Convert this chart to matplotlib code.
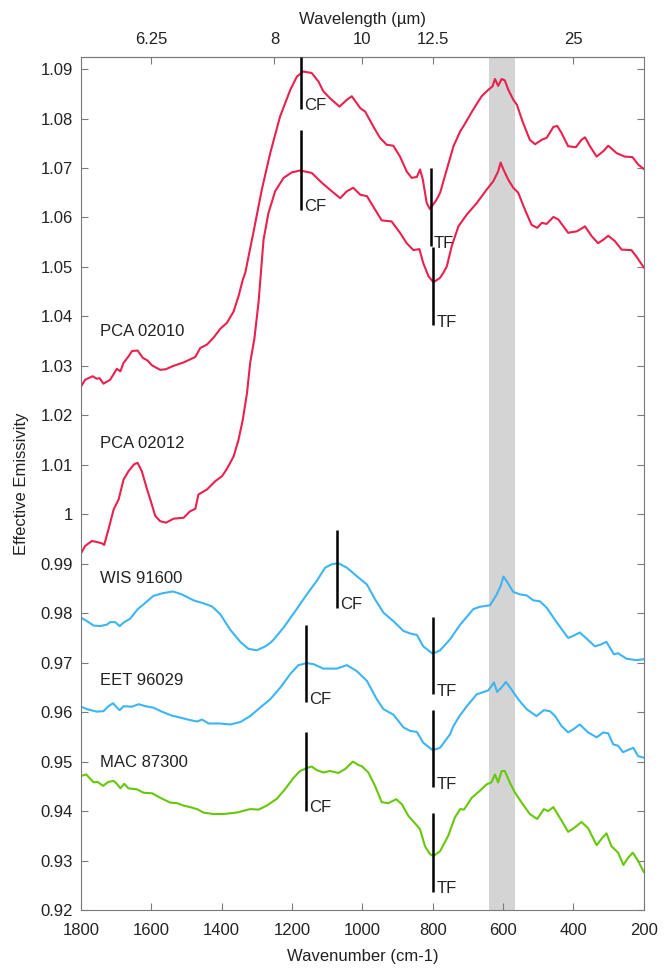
import matplotlib
matplotlib.use('Agg')
import matplotlib.pyplot as plt
from matplotlib.ticker import FormatStrFormatter, FuncFormatter

plt.rcParams['font.family'] = ['Liberation Sans', 'DejaVu Sans']
plt.rcParams['font.size'] = 12

# PCA 02010
pca10_wn = [1800, 1788, 1767, 1755, 1747, 1736, 1717, 1698, 1688, 1679, 1665, 1655, 1639, 1624, 1611,
            1598, 1575, 1560, 1537, 1508, 1490, 1475, 1461, 1442, 1423, 1404, 1385, 1366, 1352, 1340,
            1333, 1310, 1286, 1262, 1234, 1205, 1186, 1168, 1144, 1125, 1111, 1092, 1065, 1044, 1030,
            1006, 992, 969, 950, 931, 912, 893, 874, 860, 845, 836, 828, 817, 808, 789, 779, 760, 741,
            722, 713, 685, 661, 642, 630, 623, 614, 604, 595, 585, 571, 561, 543, 524, 509, 490, 476,
            457, 446, 434, 415, 393, 377, 367, 353, 334, 315, 301, 277, 254, 232, 216, 200]
pca10_em = [1.0258, 1.0272, 1.0279, 1.0274, 1.0275, 1.0264, 1.0272, 1.0294, 1.0289, 1.0306, 1.0319,
            1.0330, 1.0331, 1.0316, 1.0311, 1.0301, 1.0292, 1.0293, 1.0300, 1.0307, 1.0313, 1.0318,
            1.0336, 1.0343, 1.0357, 1.0375, 1.0387, 1.0410, 1.0441, 1.0474, 1.0488, 1.0569, 1.0656,
            1.0730, 1.0804, 1.0858, 1.0885, 1.0895, 1.0892, 1.0875, 1.0855, 1.0841, 1.0824, 1.0838,
            1.0845, 1.0821, 1.0814, 1.0784, 1.0761, 1.0747, 1.0745, 1.0723, 1.0693, 1.0680, 1.0682,
            1.0697, 1.0676, 1.0629, 1.0617, 1.0636, 1.0650, 1.0697, 1.0744, 1.0774, 1.0784, 1.0818,
            1.0845, 1.0858, 1.0865, 1.0880, 1.0866, 1.0880, 1.0877, 1.0858, 1.0838, 1.0828, 1.0791,
            1.0757, 1.0748, 1.0757, 1.0761, 1.0783, 1.0785, 1.0771, 1.0744, 1.0742, 1.0757, 1.0762,
            1.0744, 1.0723, 1.0734, 1.0745, 1.0730, 1.0723, 1.0722, 1.0707, 1.0698]

# PCA 02012
pca12_wn = [1800, 1788, 1769, 1755, 1740, 1734, 1722, 1707, 1693, 1679, 1665, 1649, 1639, 1627, 1612,
            1603, 1589, 1575, 1558, 1537, 1508, 1490, 1475, 1466, 1442, 1418, 1399, 1385, 1366, 1352,
            1340, 1328, 1319, 1307, 1295, 1281, 1267, 1248, 1224, 1201, 1177, 1144, 1115, 1087, 1063,
            1044, 1026, 1006, 987, 964, 945, 917, 893, 874, 855, 838, 827, 812, 798, 779, 770, 760,
            746, 727, 703, 675, 647, 628, 614, 607, 599, 585, 571, 557, 538, 519, 503, 490, 476, 457,
            443, 415, 390, 367, 348, 330, 315, 301, 282, 263, 235, 221, 200]
pca12_em = [0.9921, 0.9936, 0.9946, 0.9944, 0.9941, 0.9938, 0.9969, 1.0010, 1.0030, 1.0070, 1.0087,
            1.0101, 1.0104, 1.0087, 1.0050, 1.0030, 0.9997, 0.9986, 0.9983, 0.9991, 0.9993, 1.0006,
            1.0011, 1.0040, 1.0050, 1.0067, 1.0077, 1.0092, 1.0117, 1.0151, 1.0191, 1.0245, 1.0306,
            1.0355, 1.0430, 1.0555, 1.0609, 1.0653, 1.0680, 1.0691, 1.0695, 1.0690, 1.0670, 1.0653,
            1.0639, 1.0653, 1.0660, 1.0646, 1.0643, 1.0616, 1.0594, 1.0592, 1.0569, 1.0548, 1.0534,
            1.0536, 1.0508, 1.0481, 1.0469, 1.0478, 1.0488, 1.0501, 1.0542, 1.0582, 1.0606, 1.0629,
            1.0656, 1.0673, 1.0693, 1.0711, 1.0697, 1.0676, 1.0660, 1.0650, 1.0616, 1.0585, 1.0579,
            1.0589, 1.0587, 1.0601, 1.0596, 1.0569, 1.0572, 1.0582, 1.0562, 1.0548, 1.0555, 1.0563,
            1.0552, 1.0535, 1.0534, 1.0521, 1.0499]

# WIS 91600
wis_wn = [1800, 1783, 1764, 1745, 1726, 1717, 1703, 1690, 1679, 1660, 1639, 1617, 1594, 1570, 1539,
          1513, 1480, 1452, 1428, 1404, 1376, 1347, 1324, 1300, 1276, 1262, 1253, 1224, 1191, 1158,
          1130, 1106, 1087, 1068, 1044, 1011, 987, 964, 940, 912, 883, 864, 845, 827, 800, 779, 751,
          724, 685, 666, 637, 618, 607, 599, 590, 571, 552, 533, 514, 495, 476, 447, 415, 401, 382,
          363, 339, 325, 306, 296, 285, 273, 249, 221, 200]
wis_em = [0.9791, 0.9784, 0.9775, 0.9774, 0.9777, 0.9782, 0.9782, 0.9774, 0.9781, 0.9789, 0.9808,
          0.9821, 0.9835, 0.9840, 0.9844, 0.9838, 0.9826, 0.9820, 0.9814, 0.9798, 0.9767, 0.9742,
          0.9728, 0.9725, 0.9733, 0.9740, 0.9746, 0.9771, 0.9804, 0.9838, 0.9865, 0.9892, 0.9899,
          0.9901, 0.9892, 0.9872, 0.9858, 0.9828, 0.9801, 0.9784, 0.9764, 0.9759, 0.9756, 0.9733,
          0.9718, 0.9725, 0.9747, 0.9775, 0.9808, 0.9813, 0.9816, 0.9838, 0.9855, 0.9874, 0.9865,
          0.9843, 0.9838, 0.9836, 0.9826, 0.9824, 0.9811, 0.9781, 0.9750, 0.9754, 0.9761, 0.9749,
          0.9733, 0.9736, 0.9742, 0.9730, 0.9717, 0.9719, 0.9708, 0.9705, 0.9707]

# EET 96029
eet_wn = [1800, 1783, 1755, 1736, 1722, 1709, 1700, 1690, 1679, 1655, 1636, 1617, 1594, 1570, 1542,
          1518, 1490, 1470, 1456, 1437, 1404, 1376, 1347, 1319, 1291, 1262, 1234, 1205, 1182, 1158,
          1139, 1111, 1073, 1044, 1016, 987, 959, 940, 912, 883, 864, 845, 827, 800, 779, 751, 741,
          724, 703, 675, 642, 626, 617, 604, 592, 576, 557, 533, 505, 484, 467, 452, 434, 415, 401,
          382, 358, 334, 315, 301, 287, 273, 259, 230, 216, 200]
eet_em = [0.9611, 0.9606, 0.9601, 0.9602, 0.9612, 0.9618, 0.9611, 0.9604, 0.9612, 0.9611, 0.9616,
          0.9612, 0.9609, 0.9601, 0.9593, 0.9589, 0.9584, 0.9581, 0.9585, 0.9577, 0.9577, 0.9575,
          0.9580, 0.9592, 0.9609, 0.9626, 0.9649, 0.9677, 0.9695, 0.9699, 0.9697, 0.9688, 0.9688,
          0.9695, 0.9683, 0.9663, 0.9626, 0.9606, 0.9595, 0.9569, 0.9562, 0.9560, 0.9538, 0.9523,
          0.9528, 0.9555, 0.9572, 0.9592, 0.9612, 0.9636, 0.9644, 0.9660, 0.9641, 0.9650, 0.9661,
          0.9646, 0.9626, 0.9606, 0.9592, 0.9604, 0.9602, 0.9592, 0.9572, 0.9559, 0.9565, 0.9575,
          0.9559, 0.9549, 0.9559, 0.9557, 0.9535, 0.9532, 0.9519, 0.9528, 0.9511, 0.9508]

# MAC 87300
mac_wn = [1800, 1785, 1764, 1753, 1737, 1722, 1707, 1698, 1688, 1677, 1665, 1641, 1622, 1598, 1575,
          1546, 1527, 1508, 1490, 1470, 1452, 1423, 1395, 1357, 1319, 1295, 1272, 1243, 1220, 1196,
          1177, 1158, 1144, 1130, 1111, 1092, 1068, 1049, 1027, 1011, 1002, 983, 964, 945, 926, 904,
          888, 869, 845, 836, 822, 808, 798, 779, 756, 737, 722, 711, 689, 666, 647, 633, 623, 614,
          604, 595, 581, 566, 547, 524, 503, 484, 472, 457, 434, 415, 396, 377, 358, 334, 320, 306,
          292, 273, 258, 244, 231, 216, 200]
mac_em = [0.9471, 0.9474, 0.9458, 0.9459, 0.9451, 0.9459, 0.9461, 0.9455, 0.9446, 0.9455, 0.9446,
          0.9444, 0.9437, 0.9436, 0.9427, 0.9417, 0.9416, 0.9411, 0.9408, 0.9404, 0.9397, 0.9394,
          0.9394, 0.9397, 0.9404, 0.9403, 0.9411, 0.9425, 0.9444, 0.9467, 0.9481, 0.9487, 0.9490,
          0.9483, 0.9478, 0.9481, 0.9477, 0.9485, 0.9500, 0.9493, 0.9491, 0.9478, 0.9451, 0.9418,
          0.9416, 0.9424, 0.9414, 0.9390, 0.9371, 0.9363, 0.9329, 0.9313, 0.9309, 0.9319, 0.9350,
          0.9387, 0.9404, 0.9403, 0.9427, 0.9441, 0.9454, 0.9458, 0.9474, 0.9458, 0.9481, 0.9481,
          0.9458, 0.9437, 0.9417, 0.9394, 0.9384, 0.9404, 0.9400, 0.9408, 0.9381, 0.9358, 0.9367,
          0.9378, 0.9365, 0.9331, 0.9344, 0.9355, 0.9329, 0.9316, 0.9291, 0.9306, 0.9316, 0.9299,
          0.9277]

names = ['PCA 02010', 'PCA 02012', 'WIS 91600', 'EET 96029', 'MAC 87300']
name_y = [1.0369, 1.0144, 0.9870, 0.9663, 0.9498]

# CF / TF feature markers
mark_x = [1175, 1175, 806, 800, 1073, 1160, 1160, 800, 800, 800]
mark_top = [1.0925, 1.0776, 1.0700, 1.0540, 0.9969, 0.9777, 0.9559, 0.9793, 0.9604, 0.9396]
mark_bot = [1.0820, 1.0616, 1.0542, 1.0383, 0.9811, 0.9620, 0.9401, 0.9636, 0.9448, 0.9237]
mark_lbl = ['CF', 'CF', 'TF', 'TF', 'CF', 'CF', 'CF', 'TF', 'TF', 'TF']

wl_ticks = [6.25, 8, 10, 12.5, 25]

red = '#e8214f'
blue = '#3db5f2'
green = '#66c80a'
gray = '#7a7a7a'
txt = '#222222'

fig, ax = plt.subplots(figsize=(6.72, 9.74), dpi=100)
fig.subplots_adjust(left=0.1205, right=0.958, top=0.9418, bottom=0.0657)

ax.axvspan(640, 565, color='#d4d4d4', lw=0, zorder=0)

ax.plot(pca10_wn, pca10_em, color=red, lw=1.5)
ax.plot(pca12_wn, pca12_em, color=red, lw=1.5)
ax.plot(wis_wn, wis_em, color=blue, lw=1.5)
ax.plot(eet_wn, eet_em, color=blue, lw=1.5)
ax.plot(mac_wn, mac_em, color=green, lw=1.5)

for x, y0, y1, s in zip(mark_x, mark_bot, mark_top, mark_lbl):
    ax.plot([x, x], [y0, y1], color='black', lw=1.8, solid_capstyle='butt', zorder=5)
    ax.annotate(s, (x, y0), xytext=(2.5, 2), textcoords='offset points',
                ha='left', va='center', color=txt, fontsize=12)

for n, y in zip(names, name_y):
    ax.text(1747, y, n, ha='left', va='center', color=txt, fontsize=12)

ax.set_xlim(1800, 200)
ax.set_ylim(0.92, 1.0925)
ax.set_xticks(range(1800, 199, -200))
ax.set_yticks([0.92 + 0.01 * i for i in range(18)])
ax.yaxis.set_major_formatter(FuncFormatter(lambda v, p: '%g' % round(v, 2)))

ax.tick_params(axis='x', direction='in', length=5, color=gray, labelcolor=txt, pad=9.5, top=False)
ax.tick_params(axis='y', direction='in', length=5, color=gray, labelcolor=txt, pad=6, right=True)
for sp in ax.spines.values():
    sp.set_color(gray)

ax.set_xlabel('Wavenumber (cm-1)', color=txt, labelpad=8)
ax.set_ylabel('Effective Emissivity', color=txt, labelpad=8)

sec = ax.secondary_xaxis('top', functions=(lambda x: 1e4 / x, lambda x: 1e4 / x))
sec.set_xticks(wl_ticks)
sec.xaxis.set_major_formatter(FormatStrFormatter('%g'))
sec.xaxis.set_minor_locator(matplotlib.ticker.NullLocator())
sec.tick_params(direction='in', length=5, color=gray, labelcolor=txt, pad=7)
sec.spines['top'].set_color(gray)
sec.set_xlabel('Wavelength (µm)', color=txt, labelpad=6)

fig.savefig('out.png', dpi=100)
